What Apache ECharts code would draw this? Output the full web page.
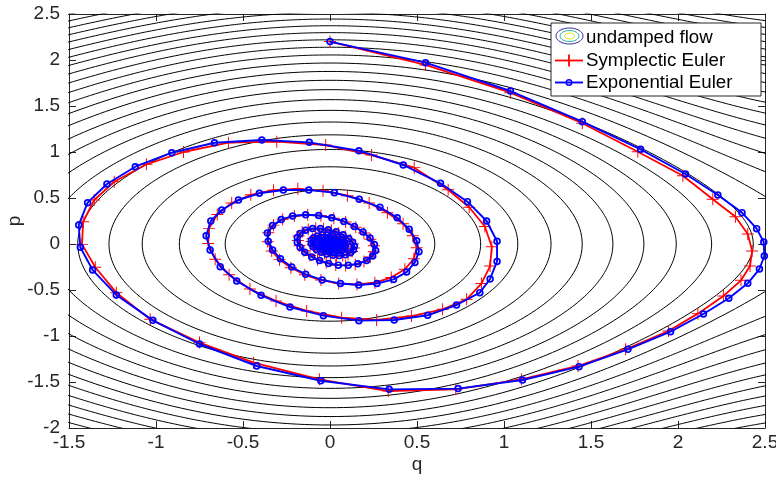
<!DOCTYPE html>
<html>
<head>
<meta charset="utf-8">
<script src="https://cdn.jsdelivr.net/npm/echarts@6/dist/echarts.min.js"></script>
<style>
  html, body { margin: 0; padding: 0; background: #fff; }
  #chart { width: 776px; height: 481px; }
</style>
</head>
<body>
<div id="chart"></div>
<script>
(function () {
  // energy levels H = p^2/2 - cos q of the drawn contours (read from the p- and q-axis crossings)
  const contourLevels = [-0.824, -0.648, -0.472, -0.296, -0.121, 0.055, 0.231, 0.407, 0.583, 0.759,
    0.935, 1.111, 1.287, 1.463, 1.639, 1.814, 1.990, 2.166, 2.342, 2.518, 2.694, 2.870, 3.046,
    3.222, 3.398, 3.573, 3.749];

  const symplecticEuler = [
    [0.000, 2.200], [0.549, 1.946], [1.037, 1.645], [1.450, 1.312], [1.769, 1.003], [2.028, 0.742],
    [2.200, 0.486], [2.330, 0.297], [2.401, 0.109], [2.426, -0.076], [2.414, -0.239], [2.362, -0.395],
    [2.261, -0.565], [2.114, -0.757], [1.945, -0.946], [1.699, -1.145], [1.425, -1.326], [1.100, -1.471],
    [0.723, -1.580], [0.335, -1.598], [-0.061, -1.471], [-0.439, -1.290], [-0.750, -1.072], [-1.033, -0.819],
    [-1.228, -0.529], [-1.349, -0.253], [-1.425, -0.004], [-1.419, 0.242], [-1.355, 0.478], [-1.240, 0.677],
    [-1.055, 0.866], [-0.842, 1.000], [-0.584, 1.101], [-0.306, 1.112], [-0.025, 1.076], [0.239, 0.967],
    [0.484, 0.830], [0.679, 0.590], [0.800, 0.400], [0.890, 0.190], [0.930, -0.030], [0.920, -0.240],
    [0.870, -0.430], [0.785, -0.601], [0.647, -0.710], [0.468, -0.783], [0.268, -0.826], [0.067, -0.801],
    [-0.134, -0.728], [-0.310, -0.620], [-0.460, -0.490], [-0.580, -0.335], [-0.660, -0.165], [-0.700, 0.005],
    [-0.695, 0.170], [-0.648, 0.320], [-0.565, 0.445], [-0.455, 0.535], [-0.325, 0.585], [-0.185, 0.600],
    [-0.040, 0.578], [0.100, 0.525], [0.225, 0.445], [0.330, 0.340], [0.420, 0.220], [0.475, 0.090],
    [0.498, -0.040], [0.482, -0.160], [0.430, -0.275], [0.352, -0.365], [0.258, -0.420], [0.155, -0.440],
    [0.050, -0.428], [-0.052, -0.392], [-0.145, -0.335], [-0.225, -0.258], [-0.290, -0.170], [-0.335, -0.075],
    [-0.358, 0.025], [-0.355, 0.122], [-0.325, 0.205], [-0.272, 0.268], [-0.205, 0.305], [-0.128, 0.318],
    [-0.052, 0.308], [0.022, 0.280], [0.090, 0.238], [0.148, 0.182], [0.195, 0.120], [0.232, 0.052],
    [0.252, -0.018], [0.252, -0.085], [0.232, -0.142], [0.195, -0.190], [0.145, -0.222], [0.090, -0.235],
    [0.033, -0.228], [-0.022, -0.205], [-0.072, -0.170], [-0.115, -0.125], [-0.150, -0.073], [-0.175, -0.018],
    [-0.185, 0.038], [-0.180, 0.088], [-0.160, 0.130], [-0.125, 0.158], [-0.082, 0.170], [-0.037, 0.165],
    [0.008, 0.148], [0.050, 0.120], [0.088, 0.085], [0.116, 0.043], [0.133, 0.000], [0.137, -0.043],
    [0.127, -0.082], [0.104, -0.111], [0.073, -0.126], [0.038, -0.129], [0.002, -0.120], [-0.032, -0.101],
    [-0.062, -0.075], [-0.085, -0.043], [-0.100, -0.008], [-0.106, 0.027], [-0.101, 0.058], [-0.085, 0.083],
    [-0.061, 0.098], [-0.032, 0.103], [-0.002, 0.097], [0.027, 0.082], [0.052, 0.060], [0.071, 0.033],
    [0.082, 0.003], [0.085, -0.026], [0.078, -0.051], [0.062, -0.070], [0.040, -0.080], [0.015, -0.082],
    [-0.010, -0.075], [-0.033, -0.060], [-0.051, -0.039], [-0.062, -0.014], [-0.066, 0.012], [-0.061, 0.036],
    [-0.048, 0.054], [-0.029, 0.065], [-0.007, 0.067], [0.015, 0.060], [0.034, 0.046], [0.048, 0.027],
    [0.055, 0.005], [0.054, -0.017], [0.046, -0.036], [0.032, -0.049], [0.014, -0.054], [-0.005, -0.052],
    [-0.022, -0.043], [-0.036, -0.028], [-0.044, -0.009], [-0.045, 0.011], [-0.039, 0.028], [-0.027, 0.040],
    [-0.011, 0.045], [0.005, 0.043], [0.020, 0.035], [0.031, 0.021], [0.036, 0.005], [0.035, -0.012],
    [0.028, -0.025], [0.017, -0.034], [0.004, -0.037], [-0.009, -0.034], [-0.020, -0.026], [-0.027, -0.014],
    [-0.029, 0.000], [-0.026, 0.013], [-0.018, 0.023], [-0.007, 0.028], [0.005, 0.027], [0.015, 0.020],
    [0.021, 0.010], [0.023, -0.002], [0.020, -0.013], [0.012, -0.020], [0.003, -0.022], [-0.006, -0.020],
    [-0.013, -0.013], [-0.016, -0.004], [-0.015, 0.006], [-0.010, 0.013], [-0.003, 0.016], [0.004, 0.015],
    [0.009, 0.010], [0.011, 0.003], [0.009, -0.004], [0.004, -0.008], [-0.001, -0.008]
  ];

  const exponentialEuler = [
    [0.000, 2.200], [0.549, 1.971], [1.037, 1.663], [1.450, 1.330], [1.785, 1.029], [2.043, 0.761],
    [2.229, 0.533], [2.368, 0.341], [2.452, 0.167], [2.493, 0.022], [2.496, -0.130], [2.468, -0.272],
    [2.401, -0.427], [2.292, -0.590], [2.146, -0.761], [1.957, -0.953], [1.712, -1.145], [1.431, -1.333],
    [1.106, -1.478], [0.736, -1.572], [0.340, -1.580], [-0.053, -1.486], [-0.421, -1.326], [-0.750, -1.087],
    [-1.018, -0.830], [-1.228, -0.554], [-1.364, -0.283], [-1.435, -0.036], [-1.444, 0.207], [-1.393, 0.449],
    [-1.282, 0.652], [-1.119, 0.840], [-0.909, 0.992], [-0.664, 1.101], [-0.392, 1.130], [-0.119, 1.105],
    [0.166, 1.014], [0.421, 0.859], [0.635, 0.660], [0.790, 0.460], [0.900, 0.250], [0.960, 0.030],
    [0.960, -0.190], [0.920, -0.380], [0.861, -0.529], [0.727, -0.663], [0.561, -0.775], [0.369, -0.826],
    [0.166, -0.833], [-0.038, -0.779], [-0.230, -0.685], [-0.396, -0.558], [-0.536, -0.402], [-0.631, -0.246],
    [-0.689, -0.065], [-0.712, 0.090], [-0.685, 0.250], [-0.622, 0.370], [-0.526, 0.478], [-0.406, 0.551],
    [-0.268, 0.587], [-0.122, 0.587], [0.025, 0.558], [0.168, 0.486], [0.287, 0.399], [0.386, 0.286],
    [0.455, 0.160], [0.498, 0.036], [0.511, -0.083], [0.488, -0.200], [0.440, -0.305], [0.365, -0.385],
    [0.270, -0.430], [0.165, -0.445], [0.060, -0.430], [-0.045, -0.390], [-0.140, -0.330], [-0.220, -0.250],
    [-0.285, -0.160], [-0.330, -0.065], [-0.355, 0.030], [-0.360, 0.120], [-0.330, 0.200], [-0.280, 0.265],
    [-0.215, 0.305], [-0.140, 0.318], [-0.065, 0.310], [0.010, 0.285], [0.080, 0.245], [0.140, 0.190],
    [0.190, 0.130], [0.230, 0.065], [0.255, -0.005], [0.262, -0.070], [0.245, -0.130], [0.210, -0.180],
    [0.160, -0.215], [0.105, -0.232], [0.048, -0.230], [-0.008, -0.212], [-0.060, -0.180], [-0.105, -0.140],
    [-0.145, -0.090], [-0.172, -0.035], [-0.188, 0.020], [-0.188, 0.070], [-0.172, 0.115], [-0.140, 0.150],
    [-0.100, 0.168], [-0.055, 0.168], [-0.010, 0.155], [0.035, 0.132], [0.075, 0.100], [0.108, 0.060],
    [0.130, 0.018], [0.140, -0.025], [0.135, -0.062], [0.117, -0.095], [0.088, -0.117], [0.053, -0.126],
    [0.017, -0.123], [-0.018, -0.110], [-0.050, -0.090], [-0.077, -0.062], [-0.097, -0.029], [-0.108, 0.006],
    [-0.107, 0.040], [-0.094, 0.068], [-0.072, 0.088], [-0.044, 0.099], [-0.014, 0.099], [0.016, 0.089],
    [0.043, 0.071], [0.066, 0.047], [0.082, 0.019], [0.089, -0.011], [0.085, -0.038], [0.071, -0.061],
    [0.049, -0.077], [0.024, -0.083], [-0.002, -0.080], [-0.027, -0.068], [-0.048, -0.050], [-0.063, -0.027],
    [-0.071, -0.001], [-0.070, 0.024], [-0.060, 0.046], [-0.042, 0.061], [-0.020, 0.067], [0.003, 0.064],
    [0.025, 0.054], [0.043, 0.037], [0.054, 0.016], [0.058, -0.007], [0.053, -0.028], [0.040, -0.044],
    [0.023, -0.053], [0.004, -0.054], [-0.015, -0.047], [-0.031, -0.035], [-0.042, -0.018], [-0.047, 0.001],
    [-0.044, 0.020], [-0.035, 0.035], [-0.020, 0.043], [-0.003, 0.044], [0.014, 0.038], [0.028, 0.026],
    [0.036, 0.010], [0.038, -0.007], [0.033, -0.022], [0.022, -0.032], [0.008, -0.036], [-0.006, -0.034],
    [-0.019, -0.026], [-0.028, -0.014], [-0.031, 0.000], [-0.029, 0.014], [-0.021, 0.024], [-0.010, 0.029],
    [0.003, 0.028], [0.014, 0.022], [0.022, 0.012], [0.025, 0.000], [0.022, -0.011], [0.015, -0.019],
    [0.005, -0.023], [-0.005, -0.021], [-0.014, -0.015], [-0.019, -0.006], [-0.020, 0.004], [-0.016, 0.012],
    [-0.009, 0.018], [0.000, 0.019], [0.008, 0.015], [0.013, 0.008], [0.015, 0.000], [0.013, -0.007],
    [0.008, -0.012], [0.001, -0.013], [-0.005, -0.011], [-0.009, -0.006], [-0.010, 0.000], [-0.008, 0.005],
    [-0.004, 0.008], [0.001, 0.008], [0.005, 0.006], [0.007, 0.002], [0.006, -0.002], [0.003, -0.005],
    [0.000, -0.005]
  ];

  const chart = echarts.init(document.getElementById("chart"));
  const ink = "#262626";
  const font = "'Liberation Sans', Arial, sans-serif";

  // undamped flow: level sets of H(q, p) = p^2/2 - cos q
  function contourBranches(level) {
    if (level < 1) {
      const qmax = Math.acos(-level);
      const loop = [];
      for (let i = 0; i <= 360; i++) {
        const t = (i / 360) * 2 * Math.PI;
        const q = qmax * Math.cos(t);
        const v = Math.sqrt(Math.max(0, 2 * (level + Math.cos(q))));
        loop.push([q, Math.sin(t) >= 0 ? v : -v]);
      }
      return [loop];
    }
    const upper = [];
    const lower = [];
    for (let i = 0; i <= 300; i++) {
      const q = -1.6 + (4.2 * i) / 300;
      const v = Math.sqrt(2 * (level + Math.cos(q)));
      upper.push([q, v]);
      lower.push([q, -v]);
    }
    return [upper, lower];
  }

  const contourSeries = contourLevels.flatMap((level) => contourBranches(level).map((branch) => ({
    name: "undamped flow", type: "line", data: branch, symbol: "none", silent: true, clip: true,
    lineStyle: { color: "#000", width: 1 }, z: 1
  })));

  const plus = "path://M-0.08,-1L0.08,-1L0.08,1L-0.08,1Z M-1,-0.08L1,-0.08L1,0.08L-1,0.08Z";
  // open ring, so the line shows through like matlab's 'o' marker
  const ring = "path://M1,0A1,1 0 1,1 -1,0A1,1 0 1,1 1,0Z M0.55,0A0.55,0.55 0 1,0 -0.55,0A0.55,0.55 0 1,0 0.55,0Z";

  const axisBase = {
    type: "value",
    axisLine: { show: true, onZero: false, lineStyle: { color: ink, width: 1 } },
    axisTick: { show: true, inside: true, length: 7, lineStyle: { color: ink, width: 1 } },
    splitLine: { show: false }
  };
  const labelStyle = { color: ink, fontSize: 19, fontFamily: font };

  chart.setOption({
    animation: false,
    backgroundColor: "#fff",
    grid: { left: 69, right: 11, top: 14, bottom: 53, containLabel: false, outerBoundsMode: "none" },
    xAxis: [
      Object.assign({}, axisBase, {
        min: -1.5, max: 2.5, interval: 0.5, position: "bottom",
        axisLabel: Object.assign({ margin: 5, showMinLabel: true, showMaxLabel: true }, labelStyle),
        name: "q", nameLocation: "middle", nameGap: 27, nameMoveOverlap: false, nameTextStyle: labelStyle
      }),
      Object.assign({}, axisBase, { min: -1.5, max: 2.5, interval: 0.5, position: "top", axisLabel: { show: false } })
    ],
    yAxis: [
      Object.assign({}, axisBase, {
        min: -2, max: 2.5, interval: 0.5, position: "left",
        axisLabel: Object.assign({ margin: 9, showMinLabel: true, showMaxLabel: true }, labelStyle),
        name: "p", nameLocation: "middle", nameGap: 45, nameMoveOverlap: false, nameTextStyle: labelStyle
      }),
      Object.assign({}, axisBase, { min: -2, max: 2.5, interval: 0.5, position: "right", axisLabel: { show: false } })
    ],
    series: contourSeries.concat([
      {
        name: "Symplectic Euler", type: "line", data: symplecticEuler, z: 3,
        symbol: plus, symbolSize: 12, showAllSymbol: true, clip: false,
        itemStyle: { color: "#ff0000" }, lineStyle: { color: "#ff0000", width: 1.8 }
      },
      {
        name: "Exponential Euler", type: "line", data: exponentialEuler, z: 4,
        symbol: ring, symbolSize: 7.5, showAllSymbol: true, clip: false,
        itemStyle: { color: "#0000ff" }, lineStyle: { color: "#0000ff", width: 1.9 }
      }
    ]),
    graphic: [
      { type: "rect", z: 100, shape: { x: 551, y: 23, width: 210, height: 73 }, style: { fill: "#fff", stroke: ink, lineWidth: 1 } },
      { type: "ellipse", z: 101, shape: { cx: 569.5, cy: 36, rx: 13.5, ry: 8 }, style: { fill: "none", stroke: "#3e26a8", lineWidth: 1 } },
      { type: "ellipse", z: 101, shape: { cx: 569.5, cy: 36, rx: 9.5, ry: 5.5 }, style: { fill: "none", stroke: "#1fb3ab", lineWidth: 1 } },
      { type: "ellipse", z: 101, shape: { cx: 569.5, cy: 36, rx: 5, ry: 3 }, style: { fill: "none", stroke: "#e9e10f", lineWidth: 1 } },
      { type: "line", z: 101, shape: { x1: 555, y1: 60.5, x2: 583, y2: 60.5 }, style: { stroke: "#ff0000", lineWidth: 1.8 } },
      { type: "line", z: 101, shape: { x1: 569, y1: 54.5, x2: 569, y2: 66.5 }, style: { stroke: "#ff0000", lineWidth: 1.8 } },
      { type: "line", z: 101, shape: { x1: 555, y1: 82.5, x2: 583, y2: 82.5 }, style: { stroke: "#0000ff", lineWidth: 1.9 } },
      { type: "circle", z: 102, shape: { cx: 569, cy: 82.5, r: 2.8 }, style: { fill: "none", stroke: "#0000ff", lineWidth: 1.4 } },
      { type: "text", z: 101, style: { x: 586, y: 37.5, text: "undamped flow", fill: "#000", font: "18.7px " + font, verticalAlign: "middle" } },
      { type: "text", z: 101, style: { x: 586, y: 60.5, text: "Symplectic Euler", fill: "#000", font: "18.7px " + font, verticalAlign: "middle" } },
      { type: "text", z: 101, style: { x: 586, y: 83, text: "Exponential Euler", fill: "#000", font: "18.7px " + font, verticalAlign: "middle" } }
    ]
  });

  window.addEventListener("resize", () => chart.resize());
})();
</script>
</body>
</html>
